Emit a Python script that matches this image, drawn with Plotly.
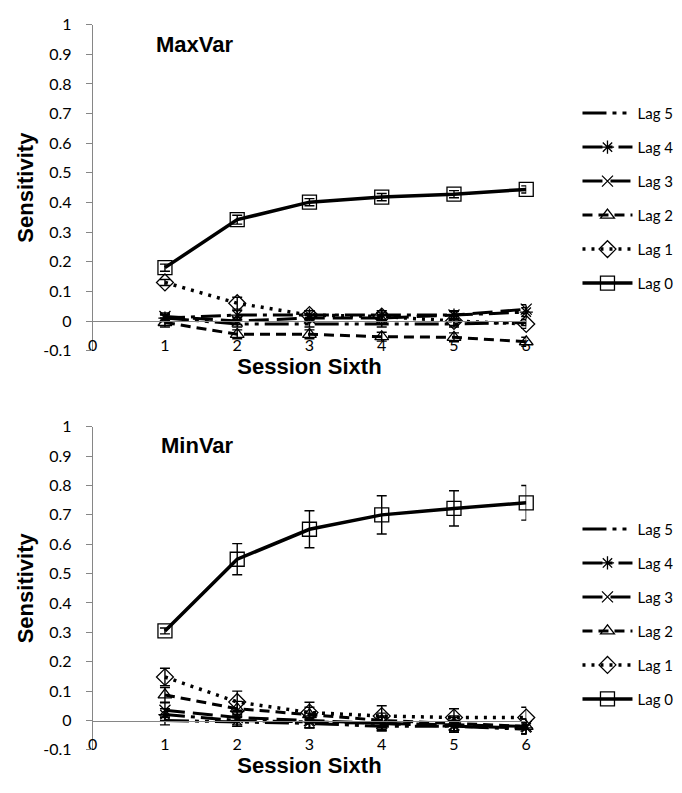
import plotly.graph_objects as go

# Session sixths on the x axis
sessions = [1, 2, 3, 4, 5, 6]
lag_names = ["Lag 5", "Lag 4", "Lag 3", "Lag 2", "Lag 1", "Lag 0"]

# MaxVar condition: mean sensitivity per lag
maxvar_lag0 = [0.18, 0.342, 0.401, 0.418, 0.428, 0.444]
maxvar_lag1 = [0.13, 0.06, 0.02, 0.015, 0.0, -0.01]
maxvar_lag2 = [-0.005, -0.045, -0.045, -0.053, -0.055, -0.07]
maxvar_lag3 = [0.015, 0.0, 0.01, 0.01, 0.02, 0.04]
maxvar_lag4 = [0.01, 0.02, 0.02, 0.02, 0.02, 0.03]
maxvar_lag5 = [0.01, -0.01, -0.01, -0.01, -0.01, -0.005]
maxvar_err0 = [0.012, 0.015, 0.012, 0.012, 0.012, 0.012]
maxvar_err1 = [0.01, 0.02, 0.015, 0.015, 0.015, 0.015]
maxvar_err2 = [0.015, 0.015, 0.015, 0.015, 0.015, 0.015]
maxvar_err3 = [0.012, 0.012, 0.012, 0.012, 0.012, 0.015]
maxvar_err4 = [0.012, 0.015, 0.015, 0.015, 0.015, 0.015]
maxvar_err5 = [0.01, 0.01, 0.01, 0.01, 0.01, 0.01]

# MinVar condition: mean sensitivity per lag
minvar_lag0 = [0.305, 0.549, 0.651, 0.70, 0.722, 0.741]
minvar_lag1 = [0.148, 0.063, 0.027, 0.015, 0.01, 0.01]
minvar_lag2 = [0.087, 0.04, 0.02, 0.0, -0.01, -0.02]
minvar_lag3 = [0.035, 0.01, 0.0, -0.01, -0.015, -0.02]
minvar_lag4 = [0.02, 0.0, -0.005, -0.01, -0.02, -0.025]
minvar_lag5 = [0.0, -0.005, -0.01, -0.02, -0.02, -0.03]
minvar_err0 = [0.01, 0.053, 0.063, 0.065, 0.06, 0.059]
minvar_err1 = [0.03, 0.037, 0.035, 0.035, 0.03, 0.035]
minvar_err2 = [0.025, 0.025, 0.025, 0.025, 0.025, 0.025]
minvar_err3 = [0.025, 0.025, 0.025, 0.025, 0.025, 0.025]
minvar_err4 = [0.02, 0.02, 0.02, 0.02, 0.02, 0.02]
minvar_err5 = [0.015, 0.015, 0.015, 0.015, 0.015, 0.015]

y_ticks = [-0.1, 0, 0.1, 0.2, 0.3, 0.4, 0.5, 0.6, 0.7, 0.8, 0.9, 1]
y_ticktext = ["-0.1", "0", "0.1", "0.2", "0.3", "0.4", "0.5", "0.6", "0.7", "0.8", "0.9", "1"]
x_ticks = [0, 1, 2, 3, 4, 5, 6]

# line / marker style for each lag (Lag 5 .. Lag 0)
styles = {
    "Lag 5": dict(dash="24px,6px,4px,6px,4px,6px", width=3, symbol=None, size=0),
    "Lag 4": dict(dash="20px,6px,4px,6px", width=3, symbol="asterisk-open", size=11),
    "Lag 3": dict(dash="20px,8px", width=3, symbol="x-thin-open", size=11),
    "Lag 2": dict(dash="10px,6px", width=3, symbol="triangle-up-open", size=12),
    "Lag 1": dict(dash="3px,6px", width=3.5, symbol="diamond-open", size=13),
    "Lag 0": dict(dash="solid", width=3.5, symbol="square-open", size=14),
}

W, H = 682, 793
TICK_FONT = dict(family="Lato, 'Open Sans', sans-serif", size=16, color="#000000")
TITLE_FONT = dict(family="'Liberation Sans', Arial, sans-serif", size=22, color="#000000")
AXIS_GRAY = "#868686"

fig = go.Figure()


def add_panel(values, errors, xa, ya, legend_name, group_prefix):
    for name in lag_names:
        st = styles[name]
        vals = values[name]
        errs = errors[name]
        marker = dict(color="black", size=st["size"], line=dict(color="black", width=1.3))
        if st["symbol"]:
            marker["symbol"] = st["symbol"]
        fig.add_trace(go.Scatter(
            x=sessions, y=vals, name=name,
            mode="lines+markers" if st["symbol"] else "lines",
            line=dict(color="black", width=st["width"], dash=st["dash"]),
            marker=marker,
            error_y=dict(type="data", array=errs, visible=True, color="black",
                         thickness=1.4, width=5),
            xaxis=xa, yaxis=ya, legend=legend_name,
            legendgroup=group_prefix + name,
            cliponaxis=False,
        ))


add_panel(
    {"Lag 0": maxvar_lag0, "Lag 1": maxvar_lag1, "Lag 2": maxvar_lag2,
     "Lag 3": maxvar_lag3, "Lag 4": maxvar_lag4, "Lag 5": maxvar_lag5},
    {"Lag 0": maxvar_err0, "Lag 1": maxvar_err1, "Lag 2": maxvar_err2,
     "Lag 3": maxvar_err3, "Lag 4": maxvar_err4, "Lag 5": maxvar_err5},
    "x", "y", "legend", "max_")
add_panel(
    {"Lag 0": minvar_lag0, "Lag 1": minvar_lag1, "Lag 2": minvar_lag2,
     "Lag 3": minvar_lag3, "Lag 4": minvar_lag4, "Lag 5": minvar_lag5},
    {"Lag 0": minvar_err0, "Lag 1": minvar_err1, "Lag 2": minvar_err2,
     "Lag 3": minvar_err3, "Lag 4": minvar_err4, "Lag 5": minvar_err5},
    "x2", "y2", "legend2", "min_")

x_dom = [89 / W, 529 / W]


def py(pix):
    return 1 - pix / H


def x_axis(zero_pix):
    return dict(
        domain=x_dom, range=[0, 6], anchor="free", position=py(zero_pix),
        showline=True, linecolor=AXIS_GRAY, linewidth=1,
        ticks="", tickvals=x_ticks, tickfont=TICK_FONT, ticklabelstandoff=9,
        showgrid=False, zeroline=False,
        title=dict(text="<b>Session Sixth</b>", font=TITLE_FONT, standoff=3),
    )


def y_axis(top_pix, bottom_pix, anchor):
    return dict(
        domain=[py(bottom_pix), py(top_pix)], range=[-0.1, 1], anchor=anchor,
        showline=True, linecolor=AXIS_GRAY, linewidth=1,
        ticks="outside", ticklen=6, tickcolor=AXIS_GRAY,
        tickvals=y_ticks, ticktext=y_ticktext, tickfont=TICK_FONT,
        ticklabelstandoff=11,
        showgrid=False, zeroline=False,
        title=dict(text="<b>Sensitivity</b>", font=TITLE_FONT, standoff=3),
    )


legend_common = dict(
    font=dict(family="Lato, 'Open Sans', sans-serif", size=15, color="#000000"),
    bgcolor="rgba(0,0,0,0)", traceorder="grouped", tracegroupgap=11.5,
    xanchor="left", yanchor="top", itemwidth=50,
)

fig.update_layout(
    width=W, height=H,
    margin=dict(l=0, r=0, t=0, b=0),
    paper_bgcolor="white", plot_bgcolor="white",
    xaxis=x_axis(319), yaxis=y_axis(15, 349, "x"),
    xaxis2=x_axis(728), yaxis2=y_axis(427, 758, "x2"),
    legend=dict(x=581 / W, y=py(89), **legend_common),
    legend2=dict(x=581 / W, y=py(515), **legend_common),
    annotations=[
        dict(text="<b>MaxVar</b>", xref="paper", yref="paper", x=151 / W, y=py(35),
             xanchor="left", yanchor="middle", showarrow=False, font=TITLE_FONT),
        dict(text="<b>MinVar</b>", xref="paper", yref="paper", x=156 / W, y=py(446),
             xanchor="left", yanchor="middle", showarrow=False, font=TITLE_FONT),
    ],
)

fig.write_html("out.html")
